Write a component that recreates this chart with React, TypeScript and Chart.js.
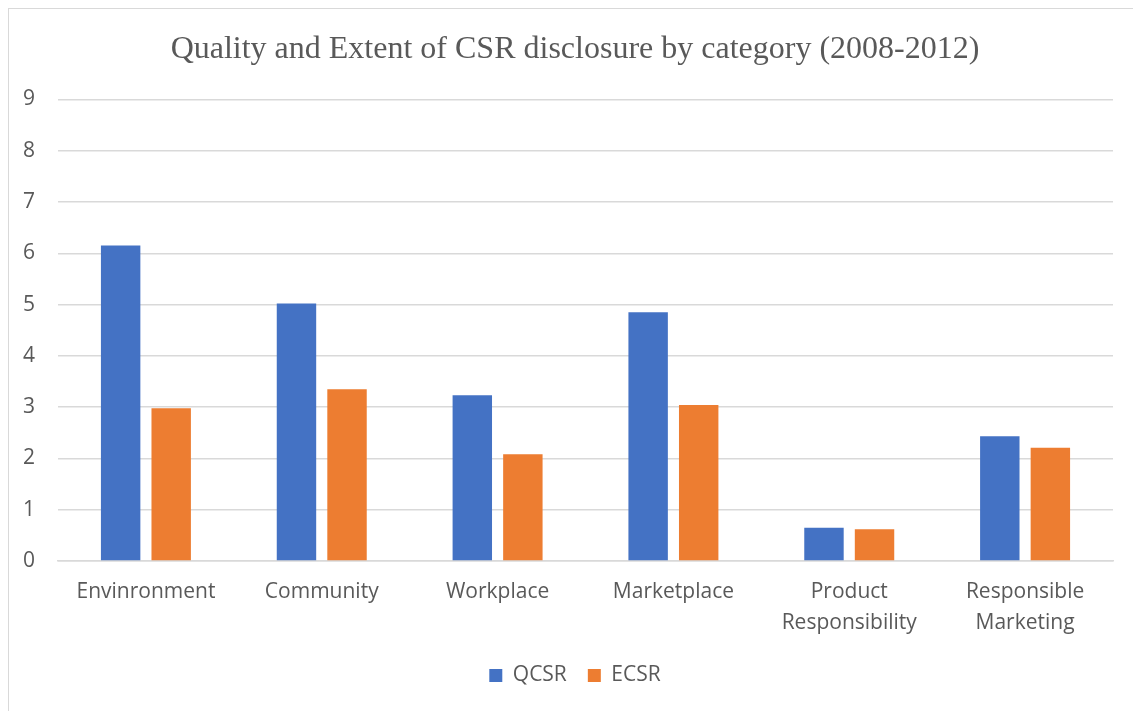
import React, { useEffect, useRef } from "react";
import { Chart, registerables } from "chart.js";

Chart.register(...registerables);

// CSR disclosure scores by category, 2008-2012
const categories: (string | string[])[] = [
  "Envinronment",
  "Community",
  "Workplace",
  "Marketplace",
  ["Product", "Responsibility"],
  ["Responsible", "Marketing"],
];
const qcsrValues = [6.15, 5.02, 3.23, 4.85, 0.65, 2.43];
const ecsrValues = [2.98, 3.35, 2.08, 3.04, 0.62, 2.21];
const yTicks = [0, 1, 2, 3, 4, 5, 6, 7, 8, 9];

const TEXT_GREY = "#595959";
const GRID_GREY = "#d9d9d9";
const SANS = "'Open Sans', sans-serif";

export default function App() {
  const canvasRef = useRef<HTMLCanvasElement | null>(null);

  useEffect(() => {
    if (!canvasRef.current) return;
    const chart = new Chart(canvasRef.current, {
      type: "bar",
      data: {
        labels: categories,
        datasets: [
          {
            label: "QCSR",
            data: qcsrValues,
            backgroundColor: "#4472C4",
            categoryPercentage: 0.575,
            barPercentage: 0.78,
          },
          {
            label: "ECSR",
            data: ecsrValues,
            backgroundColor: "#ED7D31",
            categoryPercentage: 0.575,
            barPercentage: 0.78,
          },
        ],
      },
      options: {
        animation: false,
        responsive: false,
        maintainAspectRatio: false,
        layout: { padding: { left: 10, right: 10, top: 0, bottom: 15 } },
        plugins: {
          title: {
            display: true,
            text: "Quality and Extent of CSR disclosure by category (2008-2012)",
            color: TEXT_GREY,
            font: { family: "'Liberation Serif', 'Times New Roman', serif", size: 32, weight: "normal" },
            padding: { top: 21, bottom: 31 },
          },
          legend: {
            display: true,
            position: "bottom",
            labels: {
              color: TEXT_GREY,
              font: { family: SANS, size: 21 },
              boxWidth: 13,
              boxHeight: 13,
              padding: 21,
            },
          },
          tooltip: { enabled: false },
        },
        scales: {
          x: {
            grid: { display: false, drawTicks: false },
            border: { display: true, color: GRID_GREY, width: 1.5 },
            ticks: {
              color: TEXT_GREY,
              font: { family: SANS, size: 21, lineHeight: 1.476 },
              padding: 16,
              maxRotation: 0,
              autoSkip: false,
            },
            afterFit: (scale: any) => {
              scale.paddingLeft = 0;
              scale.paddingRight = 0;
              scale.height = scale.height - 11;
            },
          },
          y: {
            min: 0,
            max: 9,
            afterBuildTicks: (axis: any) => {
              axis.ticks = yTicks.map((v) => ({ value: v }));
            },
            afterFit: (scale: any) => {
              scale.width = 39;
            },
            grid: { color: GRID_GREY, lineWidth: 1.5, drawTicks: false },
            border: { display: false },
            ticks: {
              color: TEXT_GREY,
              font: { family: SANS, size: 21 },
              padding: 23,
            },
          },
          // empty right-hand gutter so the plot sits left of centre while the title stays centred
          gutter: {
            type: "linear",
            position: "right",
            display: true,
            grid: { display: false, drawTicks: false },
            border: { display: false },
            ticks: { display: false },
            afterFit: (scale: any) => {
              scale.width = 18;
            },
          },
        },
      },
    });
    return () => chart.destroy();
  }, []);

  return (
    <div
      style={{
        borderLeft: "1px solid #d9d9d9",
        borderTop: "1px solid #d9d9d9",
        width: 1132,
        height: 702,
        overflow: "hidden",
      }}
    >
      <canvas ref={canvasRef} width={1132} height={702} style={{ display: "block" }} />
    </div>
  );
}
